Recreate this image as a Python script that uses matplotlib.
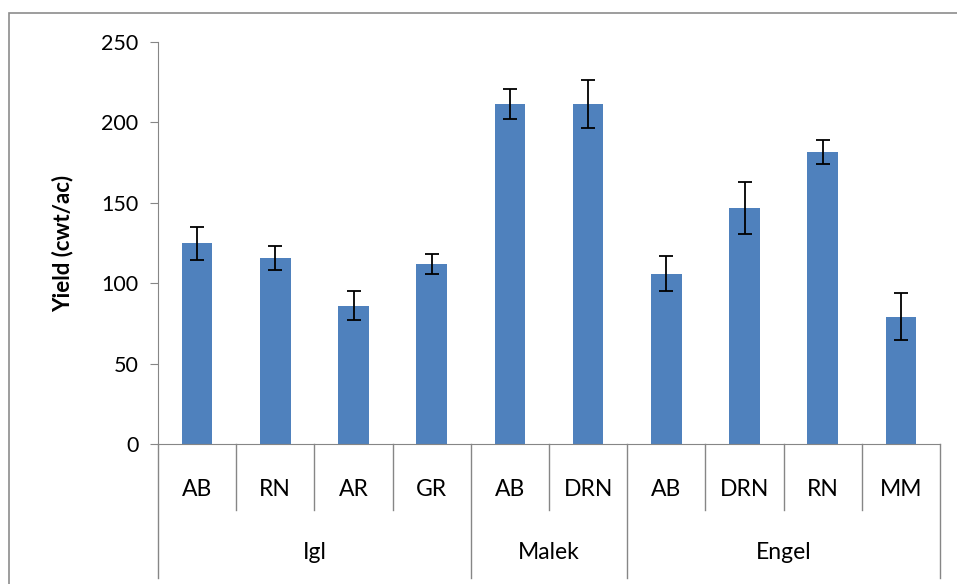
import matplotlib.pyplot as plt
import matplotlib.patches as patches
import numpy as np

# data
groups = ["Igl", "Malek", "Engel"]
group_sizes = [4, 2, 4]
treatments = ["AB", "RN", "AR", "GR", "AB", "DRN", "AB", "DRN", "RN", "MM"]
yield_vals = [124.8, 115.9, 86, 111.9, 211.6, 211.6, 105.9, 146.8, 181.6, 79]
yield_err = [10.4, 7.4, 8.9, 6.0, 9.3, 14.9, 11.0, 16.4, 7.5, 14.6]

plt.rcParams['font.family'] = ['Lato', 'DejaVu Sans']

fig = plt.figure(figsize=(9.57, 5.84), dpi=100)
# outer chart border (cropped at right and bottom like the picture)
fig.patches.append(patches.Rectangle((9/957, -0.1), 1.2, 1 - 13/584 + 0.1,
                                     transform=fig.transFigure, fill=False,
                                     edgecolor='#8c8c8c', linewidth=1.2))

ax = fig.add_axes([158/957, 140/584, 782/957, 402/584])
x = np.arange(len(treatments))
ax.bar(x, yield_vals, width=0.39, color='#4F81BD')
ax.errorbar(x, yield_vals, yerr=yield_err, fmt='none', ecolor='black',
            elinewidth=1.3, capsize=5, capthick=1.3)

ax.set_xlim(-0.5, len(treatments) - 0.5)
ax.set_ylim(0, 250)
ax.set_yticks([0, 50, 100, 150, 200, 250])
ax.tick_params(axis='y', labelsize=15.5, length=6, color='#868686', pad=8)
ax.set_xticks([])
for s in ['top', 'right']:
    ax.spines[s].set_visible(False)
for s in ['left', 'bottom']:
    ax.spines[s].set_color('#868686')
ax.set_ylabel("Yield (cwt/ac)", fontsize=16, fontweight='bold', labelpad=20)

# multi-level category axis
trans = ax.get_xaxis_transform()
group_edges = np.concatenate([[0], np.cumsum(group_sizes)]) - 0.5
for b in np.arange(len(treatments) + 1) - 0.5:
    bottom = -0.333 if b in group_edges else -0.164
    ax.plot([b, b], [0, bottom], transform=trans, color='#868686',
            linewidth=1, clip_on=False)
for xi, t in zip(x, treatments):
    ax.text(xi, -0.114, t, transform=trans, ha='center', va='center', fontsize=16.5)
for g, lo, hi in zip(groups, group_edges[:-1], group_edges[1:]):
    ax.text((lo + hi) / 2, -0.271, g, transform=trans, ha='center', va='center', fontsize=16.5)

fig.savefig("out.png", dpi=100)
